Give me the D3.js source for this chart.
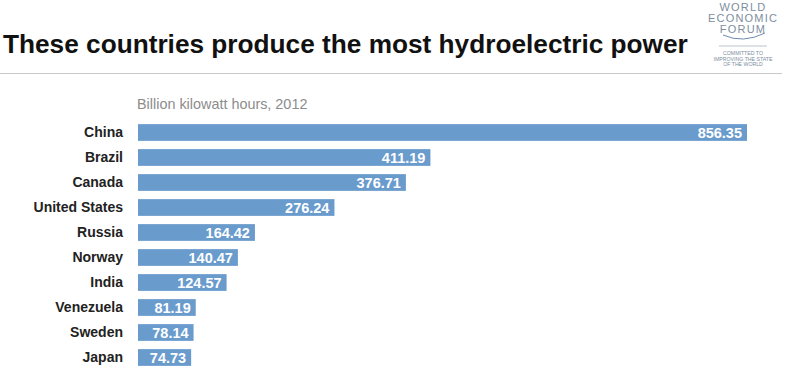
<!DOCTYPE html>
<html>
<head>
<meta charset="utf-8">
<script src="https://cdn.jsdelivr.net/npm/d3@7"></script>
<style>
  body { margin: 0; background: #fff; }
  text { font-family: "Liberation Sans", Arial, sans-serif; }
</style>
</head>
<body>
<div id="chart"></div>
<script>
var countries = ["China", "Brazil", "Canada", "United States", "Russia", "Norway", "India", "Venezuela", "Sweden", "Japan"];
var values = [856.35, 411.19, 376.71, 276.24, 164.42, 140.47, 124.57, 81.19, 78.14, 74.73];
var titleText = "These countries produce the most hydroelectric power";
var subtitleText = "Billion kilowatt hours, 2012";

var svgWidth = 800, svgHeight = 369;
var margin = { top: 120, left: 138, right: 53, bottom: 0 };

var svg = d3.select("#chart").append("svg")
  .attr("width", svgWidth)
  .attr("height", svgHeight);

// title
var title = svg.append("text")
  .attr("x", 3)
  .attr("y", 53)
  .attr("font-size", 22)
  .attr("font-weight", "bold")
  .attr("fill", "#111")
  .text(titleText);
var tw = title.node().getComputedTextLength();
title.attr("font-size", 22 * 685 / tw);

svg.append("line")
  .attr("x1", 0).attr("x2", 782)
  .attr("y1", 73.5).attr("y2", 73.5)
  .attr("stroke", "#c8c8c8")
  .attr("stroke-width", 1.2);

// logo
var logo = svg.append("g").attr("transform", "translate(743,0)").attr("fill", "#7d8ea0");
[["WORLD", 11], ["ECONOMIC", 22], ["FORUM", 33]].forEach(function(d) {
  logo.append("text").attr("y", d[1]).attr("text-anchor", "middle")
    .attr("font-size", 11).attr("letter-spacing", 1.2).text(d[0]);
});
logo.append("path")
  .attr("d", "M-20,35 Q0,44 22,33")
  .attr("fill", "none").attr("stroke", "#6f8ab0").attr("stroke-width", 1);
logo.append("line").attr("x1", -24).attr("x2", 24).attr("y1", 46).attr("y2", 46)
  .attr("stroke", "#a8b4c2").attr("stroke-width", 0.8);
[["COMMITTED TO", 55], ["IMPROVING THE STATE", 60.5], ["OF THE WORLD", 66]].forEach(function(d) {
  logo.append("text").attr("y", d[1]).attr("text-anchor", "middle")
    .attr("font-family", "Liberation Serif, serif")
    .attr("font-size", 5.2).text(d[0]);
});

var x = d3.scaleLinear()
  .domain([0, 856.35])
  .range([0, 609]);

var y = d3.scaleBand()
  .domain(countries)
  .range([margin.top, margin.top + 250])
  .paddingInner(0.33)
  .paddingOuter(0.165);

svg.append("text")
  .attr("x", margin.left - 1)
  .attr("y", 109)
  .attr("font-size", 14.4)
  .attr("fill", "#8c8c8c")
  .text(subtitleText);

var data = countries.map(function(c, i) { return { name: c, value: values[i] }; });

var g = svg.append("g").attr("transform", "translate(" + margin.left + ",0)");

g.selectAll("rect")
  .data(data)
  .enter()
  .append("rect")
  .attr("x", 0)
  .attr("y", d => y(d.name))
  .attr("width", d => x(d.value))
  .attr("height", y.bandwidth())
  .attr("fill", "#6a9bcd");

g.selectAll(".val")
  .data(data)
  .enter()
  .append("text")
  .attr("class", "val")
  .attr("x", d => x(d.value) - 5)
  .attr("y", d => y(d.name) + y.bandwidth() / 2)
  .attr("dy", "0.36em")
  .attr("text-anchor", "end")
  .attr("font-size", 14.5)
  .attr("font-weight", "bold")
  .attr("fill", "#fff")
  .text(d => d.value.toFixed(2));

// country labels via axis
var yAxis = d3.axisLeft(y).tickSize(0).tickPadding(15);
var ax = svg.append("g")
  .attr("transform", "translate(" + margin.left + ",0)")
  .call(yAxis);
ax.select(".domain").remove();
ax.selectAll("text")
  .attr("font-size", 14)
  .attr("font-weight", "bold")
  .attr("fill", "#222")
  .style("font-family", "Liberation Sans, Arial, sans-serif");
</script>
</body>
</html>
